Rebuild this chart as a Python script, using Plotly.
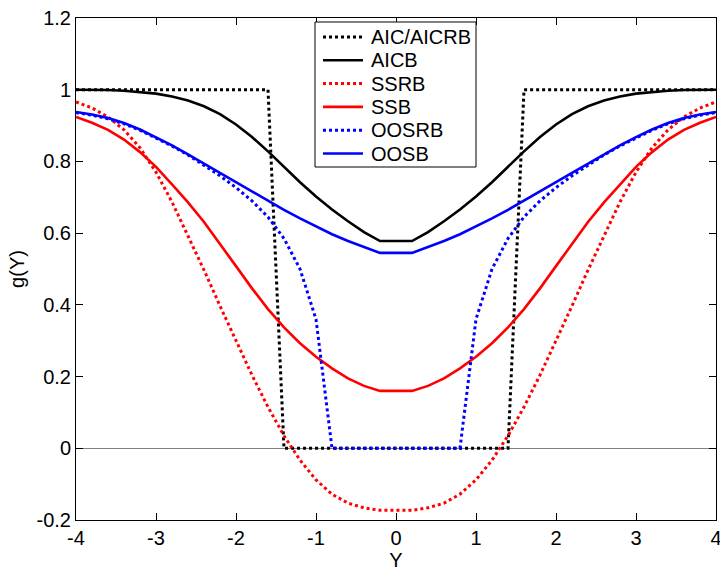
import plotly.graph_objects as go

# x grid (left half; right half is the mirror image, no point at 0)
x_left = [-4.0, -3.8, -3.6, -3.4, -3.2, -3.0, -2.8, -2.6, -2.4, -2.2,
          -2.0, -1.8, -1.6, -1.4, -1.2, -1.0, -0.8, -0.6, -0.4, -0.2]

aic_aicrb_left = [1, 1, 1, 1, 1, 1, 1, 1, 1, 1,
                  1, 1, 1, 0, 0, 0, 0, 0, 0, 0]
aicb_left = [1.000, 1.000, 0.999, 0.997, 0.994, 0.989, 0.981, 0.970, 0.954, 0.932,
             0.903, 0.868, 0.828, 0.785, 0.742, 0.702, 0.666, 0.633, 0.603, 0.578]
ssrb_left = [0.966, 0.949, 0.924, 0.888, 0.838, 0.770, 0.687, 0.594, 0.497, 0.397,
             0.299, 0.204, 0.115, 0.035, -0.033, -0.088, -0.128, -0.153, -0.166, -0.173]
ssb_left = [0.924, 0.908, 0.888, 0.861, 0.826, 0.785, 0.736, 0.686, 0.631, 0.571,
            0.508, 0.446, 0.388, 0.337, 0.293, 0.255, 0.223, 0.195, 0.174, 0.160]
oosrb_left = [0.936, 0.929, 0.919, 0.905, 0.887, 0.866, 0.843, 0.818, 0.790, 0.760,
              0.727, 0.690, 0.645, 0.585, 0.500, 0.360, 0.0, 0.0, 0.0, 0.0]
oosb_left = [0.938, 0.931, 0.921, 0.907, 0.889, 0.868, 0.845, 0.820, 0.794, 0.768,
             0.742, 0.716, 0.690, 0.665, 0.641, 0.618, 0.597, 0.578, 0.561, 0.545]

series_names = ["AIC/AICRB", "AICB", "SSRB", "SSB", "OOSRB", "OOSB"]
series_left = [aic_aicrb_left, aicb_left, ssrb_left, ssb_left, oosrb_left, oosb_left]
series_colors = ["#000000", "#000000", "#ff0000", "#ff0000", "#0000ff", "#0000ff"]
series_dash = ["dot", "solid", "dot", "solid", "dot", "solid"]

y_tickvals = [-0.2, 0, 0.2, 0.4, 0.6, 0.8, 1.0, 1.2]
y_ticktext = ["-0.2", "0", "0.2", "0.4", "0.6", "0.8", "1", "1.2"]
x_tickvals = [-4, -3, -2, -1, 0, 1, 2, 3, 4]
x_ticktext = ["-4", "-3", "-2", "-1", "0", "1", "2", "3", "4"]

x_full = x_left + [-v for v in reversed(x_left)]

FONT = "Liberation Sans, Arial, sans-serif"

W, H = 720, 571
ML, MR, MT, MB = 76, 4, 18, 51
PW, PH = W - ML - MR, H - MT - MB


def px_x(px):
    return (px - ML) / PW


def px_y(py):
    return (H - MB - py) / PH


fig = go.Figure()
for name, vals, col, dash in zip(series_names, series_left, series_colors, series_dash):
    y_full = list(vals) + list(reversed(vals))
    fig.add_trace(go.Scatter(
        x=x_full, y=y_full, mode="lines", name=name,
        line=dict(color=col, dash=dash, width=2.6 if dash == "solid" else 3),
    ))

# custom legend box (MATLAB style)
shapes = [dict(type="rect", xref="paper", yref="paper",
               x0=px_x(315), x1=px_x(476), y0=px_y(167), y1=px_y(22),
               line=dict(color="black", width=1), fillcolor="white", layer="above")]
annotations = []
for i, (name, col, dash) in enumerate(zip(series_names, series_colors, series_dash)):
    cy = 37 + i * 23.3
    shapes.append(dict(type="line", xref="paper", yref="paper",
                       x0=px_x(323), x1=px_x(363), y0=px_y(cy), y1=px_y(cy),
                       line=dict(color=col, dash=dash, width=2.6 if dash == "solid" else 3),
                       layer="above"))
    annotations.append(dict(xref="paper", yref="paper", x=px_x(369), y=px_y(cy),
                            xanchor="left", yanchor="middle", showarrow=False,
                            text=name, font=dict(family=FONT, size=20, color="black")))

axis_common = dict(
    showline=True, linecolor="black", linewidth=1, mirror="ticks",
    ticks="inside", ticklen=7, tickcolor="black", showgrid=False,
    automargin=False, ticklabeloverflow="allow",
    tickfont=dict(family=FONT, size=20, color="black"),
)

fig.update_layout(
    width=W, height=H,
    margin=dict(l=ML, r=MR, t=MT, b=MB),
    paper_bgcolor="white", plot_bgcolor="white",
    font=dict(family=FONT, size=20, color="black"),
    showlegend=False,
    shapes=shapes,
    annotations=annotations,
    xaxis=dict(range=[-4, 4], tickvals=x_tickvals, ticktext=x_ticktext,
               zeroline=False,
               title=dict(text="Y", font=dict(family=FONT, size=20), standoff=0),
               **axis_common),
    yaxis=dict(range=[-0.2, 1.2], tickvals=y_tickvals, ticktext=y_ticktext,
               zeroline=True, zerolinecolor="#808080", zerolinewidth=1,
               title=dict(text="g(Y)", font=dict(family=FONT, size=20), standoff=6),
               **axis_common),
)

fig.write_html("out.html", config={"displayModeBar": False},
               post_script="document.body.style.margin='0';")
